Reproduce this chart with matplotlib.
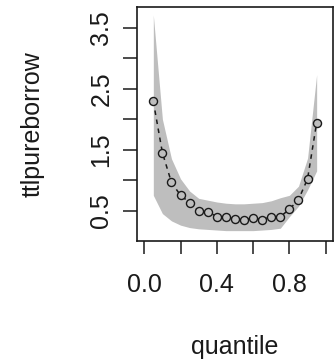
import numpy as np
import matplotlib.pyplot as plt

plt.rcParams['font.family'] = ['Liberation Sans', 'DejaVu Sans']

# quantile regression estimates with a confidence band
quantiles = [0.05, 0.10, 0.15, 0.20, 0.25, 0.30, 0.35, 0.40, 0.45, 0.50,
             0.55, 0.60, 0.65, 0.70, 0.75, 0.80, 0.85, 0.90, 0.95]
estimate = [2.29, 1.45, 0.96, 0.75, 0.63, 0.49, 0.48, 0.40, 0.40, 0.36,
            0.35, 0.38, 0.35, 0.40, 0.40, 0.52, 0.68, 1.02, 1.94]
upper = [3.71, 2.00, 1.35, 1.02, 0.82, 0.70, 0.67, 0.64, 0.62, 0.61,
         0.61, 0.62, 0.63, 0.66, 0.71, 0.75, 0.90, 1.36, 2.73]
lower = [0.75, 0.45, 0.33, 0.26, 0.22, 0.20, 0.19, 0.18, 0.17, 0.17,
         0.17, 0.17, 0.18, 0.19, 0.21, 0.40, 0.57, 0.84, 1.15]

xticks = [0.0, 0.2, 0.4, 0.6, 0.8, 1.0]
xticklabels = ['0.0', '', '0.4', '', '0.8', '']
yticks = [0.5, 1.0, 1.5, 2.0, 2.5, 3.0, 3.5]
yticklabels = ['0.5', '', '1.5', '', '2.5', '', '3.5']

band = '#bebebe'
ink = '#1a1a1a'

fig = plt.figure(figsize=(3.36, 3.59), dpi=100)
ax = fig.add_axes([0.4077, 0.3287, 0.5833, 0.6518])

ax.fill_between(quantiles, lower, upper, color=band, linewidth=0)
ax.plot(quantiles, estimate, color=ink, linestyle=(0, (3, 3)), linewidth=1.1,
        marker='o', markersize=5.8, markerfacecolor=band,
        markeredgecolor=ink, markeredgewidth=1.0)

ax.set_xlim(-0.04, 1.04)
ax.set_ylim(0.0, 3.84)

ax.set_xticks(xticks)
ax.set_xticklabels(xticklabels)
ax.set_yticks(yticks)
ax.set_yticklabels(yticklabels, rotation=90, va='center')

ax.tick_params(axis='x', length=9, width=1.1, pad=14, labelsize=18,
               colors=ink)
ax.tick_params(axis='y', length=10, width=1.1, pad=7, labelsize=18,
               colors=ink)
for s in ax.spines.values():
    s.set_linewidth(1.2)
    s.set_color(ink)

ax.set_xlabel('quantile', fontsize=18, color=ink, va='center')
ax.xaxis.set_label_coords(0.5, -0.453)
ax.set_ylabel('ttlpureborrow', fontsize=18, color=ink, va='center')
ax.yaxis.set_label_coords(-0.531, 0.5)

fig.savefig('out.png', dpi=100)
